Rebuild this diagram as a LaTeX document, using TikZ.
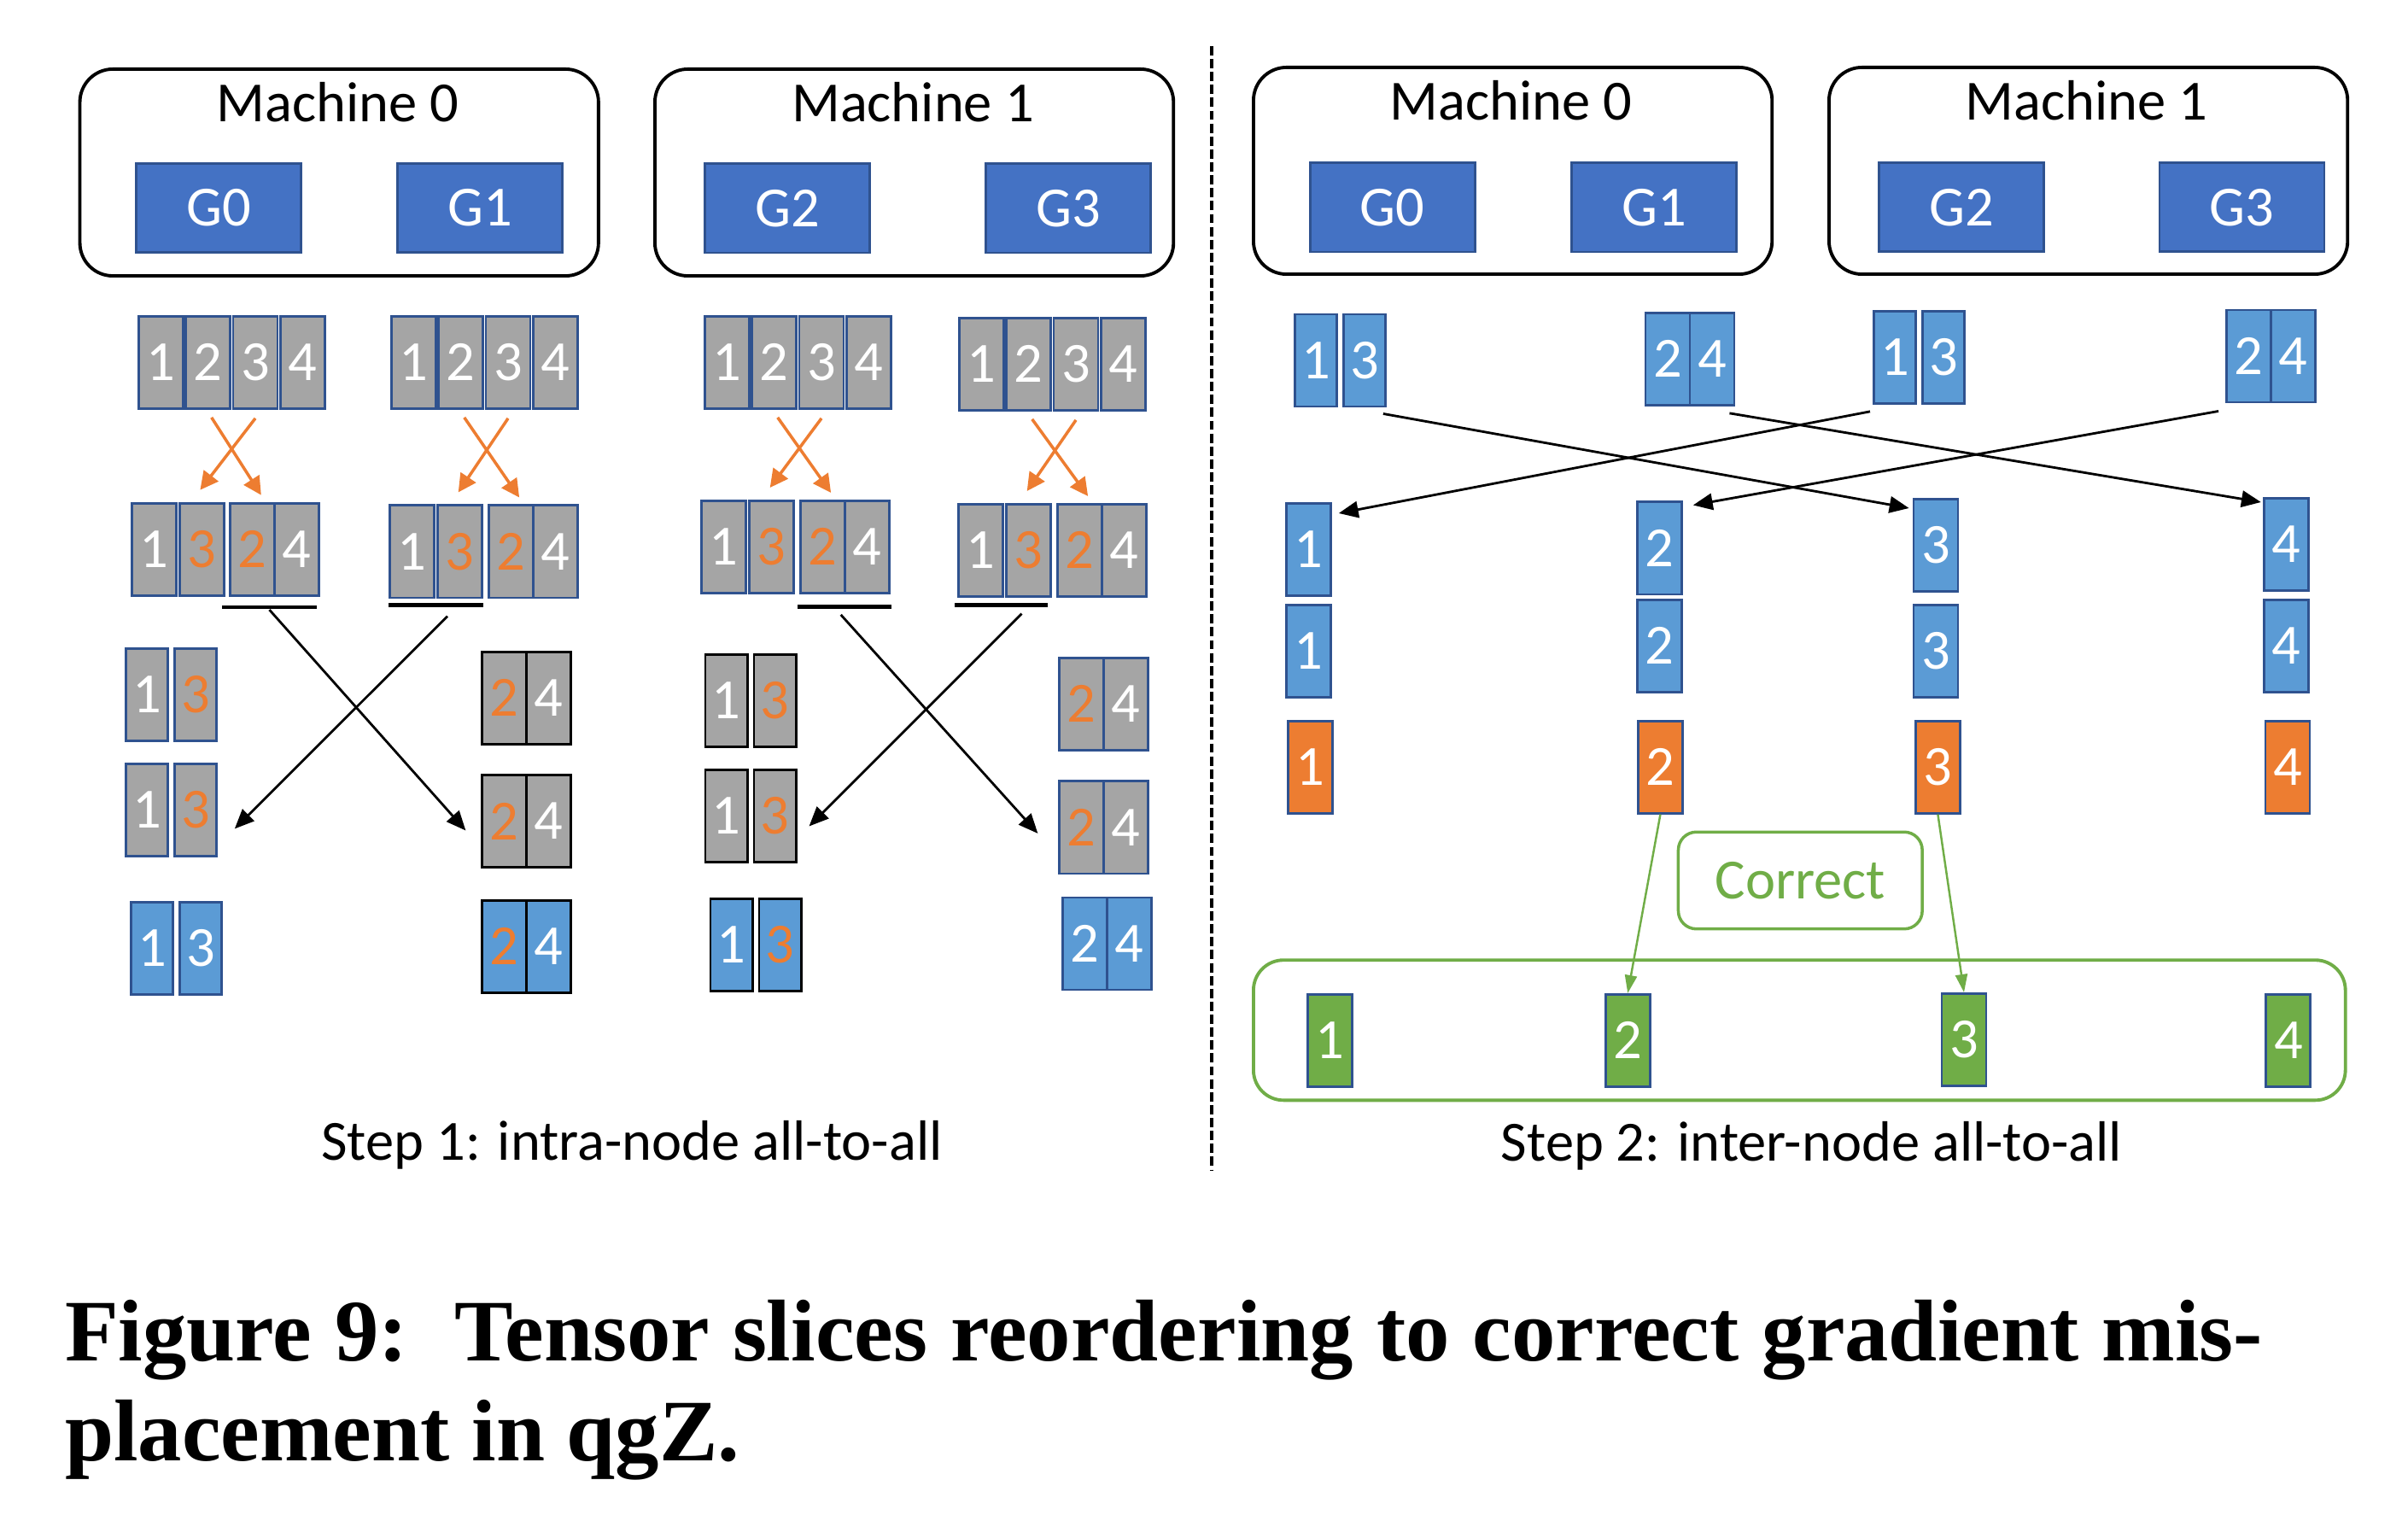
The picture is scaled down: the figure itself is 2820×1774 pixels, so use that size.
\documentclass[tikz,border=0pt]{standalone}
\usepackage{fontspec}
\setmainfont{Carlito}
\newfontfamily\capfont{Liberation Serif}
\usetikzlibrary{arrows.meta,calc}
\definecolor{cgray}{HTML}{A5A5A5}
\definecolor{cblue}{HTML}{5B9BD5}
\definecolor{gblue}{HTML}{4472C4}
\definecolor{bord}{HTML}{2F528F}
\definecolor{corange}{HTML}{ED7D31}
\definecolor{cgreen}{HTML}{70AD47}
\tikzset{
  lbl/.style={font=\fontsize{18.9}{22}\selectfont, inner sep=0pt},
  cl/.style={draw=bord, line width=0.8pt, minimum width=0.52cm, minimum height=1.08cm, inner sep=0pt, anchor=north west, font=\fontsize{18.9}{22}\selectfont, text=white},
  gy/.style={cl, fill=cgray},
  bl/.style={cl, fill=cblue},
  gyk/.style={gy, draw=black, line width=0.85pt},
  blk/.style={bl, draw=black, line width=0.85pt},
  nw/.style={minimum width=0.49cm},
  og/.style={cl, fill=corange},
  gr/.style={cl, fill=cgreen},
  oc/.style={text=corange},
  mach/.style={draw=black, line width=1.1pt, rounded corners=11pt, minimum width=6.07cm, minimum height=2.42cm, anchor=north west, inner sep=0pt},
  gpu/.style={draw=bord, fill=gblue, line width=0.8pt, minimum width=1.93cm, minimum height=1.04cm, inner sep=0pt, anchor=north west, text=white, font=\fontsize{18.9}{22}\selectfont},
  oarr/.style={draw=corange, line width=1pt, -{Triangle[length=6pt,width=6pt]}},
  karr/.style={draw=black, line width=0.8pt, -{Triangle[length=6.5pt,width=5.5pt]}},
  garr/.style={draw=cgreen, line width=0.7pt, -{Triangle[length=6pt,width=4pt]}},
  barn/.style={fill=black, inner sep=0pt, minimum height=0.047cm},
}
\begin{document}
\begin{tikzpicture}[x=0.01cm, y=-0.01cm]
\useasboundingbox (0,0) rectangle (2820,1774);
% divider
\draw[line width=1.1pt, dash pattern=on 3.1pt off 1.2pt] (1419.3,54) -- (1419.3,1370);

% ===== Step 1 machines
\node[mach] (mL0) at (91.6,79) {};
\node[mach] (mL1) at (765,79) {};
\node[lbl, anchor=base] (tL0) at (395.5,143) {Machine 0};
\node[lbl, anchor=base] (tL1) at (1069,143) {Machine 1};
\node[gpu] (gL0) at (158,190) {G0};
\node[gpu] (gL1) at (464,190) {G1};
\node[gpu] (gL2) at (824,190.5) {G2};
\node[gpu] (gL3) at (1153,190.5) {G3};

% row 1
\node[gy] (a1) at (161,369) {1};
\node[gy] (a2) at (216.3,369) {2};
\node[gy] (a3) at (271.6,369) {3};
\node[gy] (a4) at (326.9,369) {4};
\node[gy] (b1) at (457,369) {1};
\node[gy] (b2) at (512.3,369) {2};
\node[gy] (b3) at (567.6,369) {3};
\node[gy] (b4) at (622.9,369) {4};
\node[gy] (c1) at (824,369) {1};
\node[gy] (c2) at (879.3,369) {2};
\node[gy] (c3) at (934.6,369) {3};
\node[gy] (c4) at (989.9,369) {4};
\node[gy] (d1) at (1122,371) {1};
\node[gy] (d2) at (1177.3,371) {2};
\node[gy] (d3) at (1232.6,371) {3};
\node[gy] (d4) at (1287.9,371) {4};

% row 2
\node[gy] (aa1) at (152.7,587.7) {1};
\node[gy, oc] (aa2) at (209,587.7) {3};
\node[gy, oc] (aa3) at (268.4,587.7) {2};
\node[gy] (aa4) at (320.4,587.7) {4};
\node[gy] (bb1) at (455,590.5) {1};
\node[gy, oc] (bb2) at (511.3,590.5) {3};
\node[gy, oc] (bb3) at (570.7,590.5) {2};
\node[gy] (bb4) at (622.7,590.5) {4};
\node[gy] (cc1) at (820,585) {1};
\node[gy, oc] (cc2) at (876.3,585) {3};
\node[gy, oc] (cc3) at (935.7,585) {2};
\node[gy] (cc4) at (987.7,585) {4};
\node[gy] (dd1) at (1121,589) {1};
\node[gy, oc] (dd2) at (1177.3,589) {3};
\node[gy, oc] (dd3) at (1236.7,589) {2};
\node[gy] (dd4) at (1288.7,589) {4};

% orange swaps
\foreach \u/\v in {a/aa,b/bb,c/cc,d/dd}{
  \draw[oarr] ($(\u2.south)+(4,9)$) -- ($(\v3.north)+(10,-8)$);
  \draw[oarr] ($(\u3.south)+(0,10)$) -- ($(\v2.north)+(-2,-14)$);
}

% bars
\node[barn, minimum width=1.10cm] (barA) at (315.5,711) {};
\node[barn, minimum width=1.11cm] (barB) at (510.5,708.6) {};
\node[barn, minimum width=1.10cm] (barC) at (989.3,710.8) {};
\node[barn, minimum width=1.09cm] (barD) at (1172.5,708.6) {};

% row 3 machine 0
\node[gy, nw] (la1) at (146,758) {1};
\node[gy, nw, oc] (la2) at (203,758) {3};
\node[gy, nw] (lb1) at (146,893) {1};
\node[gy, nw, oc] (lb2) at (203,893) {3};
\node[bl, nw] (lc1) at (152,1055) {1};
\node[bl, nw] (lc2) at (209,1055) {3};
\node[gyk, oc] (ra1) at (563,761.7) {2};
\node[gyk] (ra2) at (615,761.7) {4};
\node[gyk, oc] (rb1) at (563,906) {2};
\node[gyk] (rb2) at (615,906) {4};
\node[blk, oc] (rc1) at (563,1052.7) {2};
\node[blk] (rc2) at (615,1052.7) {4};
% row 3 machine 1
\node[gyk, nw] (ma1) at (824.5,765) {1};
\node[gyk, nw, oc] (ma2) at (881.5,765) {3};
\node[gyk, nw] (mb1) at (824.5,900) {1};
\node[gyk, nw, oc] (mb2) at (881.5,900) {3};
\node[blk, nw] (mc1) at (830.5,1051) {1};
\node[blk, nw, oc] (mc2) at (887.5,1051) {3};
\node[gy, oc] (na1) at (1239,769) {2};
\node[gy] (na2) at (1291,769) {4};
\node[gy, oc] (nb1) at (1239,913.5) {2};
\node[gy] (nb2) at (1291,913.5) {4};
\node[bl] (nc1) at (1243,1049.6) {2};
\node[bl] (nc2) at (1295,1049.6) {4};

% black exchange arrows
\draw[karr] (barA.south) -- ($(rb1.west)+(-17.6,11)$);
\draw[karr] ($(barB.south)+(13.5,10)$) -- ($(lb2.east)+(20,22)$);
\draw[karr] ($(barC.south)+(-4.6,6)$) -- ($(nb1.west)+(-23.6,7)$);
\draw[karr] ($(barD.south)+(24,7)$) -- ($(mb2.east)+(14,12)$);

\node[lbl, anchor=base] (st1) at (740,1359) {Step 1: intra-node all-to-all};

% ===== Step 2 machines
\node[mach] (mR0) at (1466,77) {};
\node[mach] (mR1) at (2140,77) {};
\node[lbl, anchor=base] (tR0) at (1769.5,140.5) {Machine 0};
\node[lbl, anchor=base] (tR1) at (2443.5,140.5) {Machine 1};
\node[gpu] (gR0) at (1532.7,189.5) {G0};
\node[gpu] (gR1) at (1839,189.5) {G1};
\node[gpu] (gR2) at (2199,189.4) {G2};
\node[gpu] (gR3) at (2527.5,189.4) {G3};

\node[bl, nw] (p1a) at (1515,366.6) {1};
\node[bl, nw] (p1b) at (1572,366.6) {3};
\node[bl] (p2a) at (1925.6,365) {2};
\node[bl] (p2b) at (1977.6,365) {4};
\node[bl, nw] (p3a) at (2193,363) {1};
\node[bl, nw] (p3b) at (2250,363) {3};
\node[bl] (p4a) at (2606,361.6) {2};
\node[bl] (p4b) at (2658,361.6) {4};

\node[bl] (s1) at (1505,588) {1};
\node[bl] (s2) at (1916,586.5) {2};
\node[bl] (s3) at (2239.6,583) {3};
\node[bl] (s4) at (2649.8,582) {4};
\node[bl] (t1) at (1505,707) {1};
\node[bl] (t2) at (1916,701) {2};
\node[bl] (t3) at (2239.6,707) {3};
\node[bl] (t4) at (2649.8,701) {4};
\node[og] (o1) at (1506.7,842.8) {1};
\node[og] (o2) at (1917,842.8) {2};
\node[og] (o3) at (2242,842.8) {3};
\node[og] (o4) at (2651.6,842.8) {4};

\draw[karr] ($(p1b.south east)+(-4,7)$) -- ($(s3.north west)+(-4,12)$);
\draw[karr] ($(p2b.south east)+(-7,8)$) -- ($(s4.north west)+(-2,6)$);
\draw[karr] ($(p3a.south west)+(-3,8)$) -- ($(s1.north east)+(8,13)$);
\draw[karr] ($(p4a.south west)+(-8,9)$) -- ($(s2.north east)+(12,5)$);

\node[draw=cgreen, line width=1pt, rounded corners=6pt, minimum width=2.855cm, minimum height=1.134cm, inner sep=0pt, text=cgreen, font=\fontsize{18.9}{22}\selectfont] (corr) at (2108.3,1031) {Correct};
\node[draw=cgreen, line width=1.1pt, rounded corners=10pt, minimum width=12.78cm, minimum height=1.64cm, inner sep=0pt, anchor=north west] (gbox) at (1466,1122.3) {};

\node[gr] (q1) at (1530,1163) {1};
\node[gr] (q2) at (1878.8,1163) {2};
\node[gr] (q3) at (2272.6,1162) {3};
\node[gr] (q4) at (2652.4,1163) {4};

\draw[garr] (o2.south) -- (q2.north);
\draw[garr] (o3.south) -- (q3.north);

\node[lbl, anchor=base] (st2) at (2121.6,1360) {Step 2: inter-node all-to-all};

% caption
\node[anchor=base west, inner sep=0pt, font={\capfont\bfseries\fontsize{29.2}{35}\selectfont}] (cap1) at (75.5,1594) {\makebox[25.72cm][s]{Figure 9:\ \ Tensor slices reordering to correct gradient mis-}};
\node[anchor=base west, inner sep=0pt, font={\capfont\bfseries\fontsize{29.2}{35}\selectfont}] (cap2) at (75.5,1710.5) {placement in qgZ.};
\end{tikzpicture}
\end{document}
